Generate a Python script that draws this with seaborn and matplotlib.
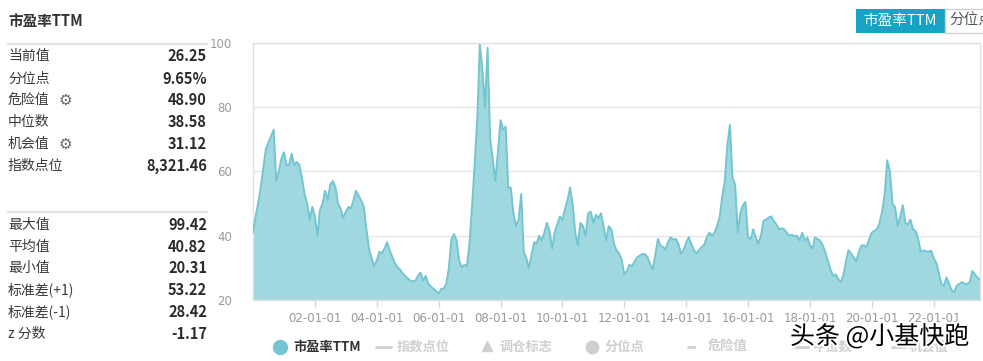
import numpy as np
import pandas as pd
import matplotlib
matplotlib.use("Agg")
import matplotlib.pyplot as plt
import matplotlib.dates as mdates
import matplotlib.patheffects as pfx
from matplotlib.patches import Rectangle
from matplotlib.lines import Line2D
import seaborn as sns

# ---------------- data ----------------
start_month = "2000-01-01"
pe_ttm = [
    41, 46, 50, 55, 61, 67, 69, 71, 73, 57,
    60, 64, 66, 62, 62, 65.5, 62, 63, 62, 58,
    53, 50, 45, 49, 46, 40, 48, 50, 54, 51,
    56, 57, 55, 50, 48.5, 45.5, 47.5, 49, 48.5, 51,
    54, 52.5, 51, 49, 42, 36, 33, 30.5,
    32.3, 35, 34.5, 36, 38, 35.5, 33.5, 31.5, 30.2, 29.5,
    28.3, 27.5, 26.7, 26, 25.8, 26, 27.5, 28.5, 26, 27.5,
    25, 24.2, 23.5, 22.8, 22, 23.5, 23.5, 25, 30, 39,
    40.5, 38.5, 32, 30.2, 31, 30.5, 38, 50, 62, 76,
    99.4, 92, 80, 98.5, 70,
    64, 57, 66, 76, 73, 74, 55, 55, 47, 43,
    45, 53, 35, 33, 30, 34, 38, 37.5, 40, 38.5,
    41, 44, 41.5, 36, 41, 43.5, 46, 45, 48.5, 51,
    55, 50, 41, 37, 44, 43, 40, 47, 47.5, 44,
    46.5, 45.5, 47, 43, 38.5, 43,
    42, 37.5, 35.5, 34.5, 32.5, 28, 29, 31, 30.5, 32,
    33.3, 33.8, 34.3, 34.3, 33.3, 31.2, 29.5, 34, 39, 37,
    36.5, 35.8, 38, 39.5, 38.8, 39, 37.4, 34.5, 35.5, 38,
    39.5, 37.5, 35.5, 34.5, 35.5, 36.5, 37.2, 39.5, 41, 40,
    41, 43, 46, 52, 57, 68, 74.5,
    58, 56, 41, 47, 49.5, 50.5, 39.5, 39, 42, 39.5,
    37.5, 40, 44.6, 45, 45.7, 46, 44.6, 43.5, 42, 42.3,
    42, 41, 40, 40.3, 39.8, 40, 38.5, 41, 38.5, 39.5,
    37, 36, 39.5, 39, 38.5, 37, 35, 32, 29.5, 27.5,
    28, 26.5, 25.5, 28, 32, 35.5, 34.5, 33.3, 32,
    35, 37, 37, 36.5, 39, 41, 41.5, 42, 44, 47.5,
    53, 63.5, 60, 50, 49, 43, 46, 49.5, 44, 43.5,
    45, 42, 41.5, 39, 35, 35.4, 35.2, 35, 35.4, 33,
    31.5, 28.5, 25, 24.5, 27, 25, 23, 22.5, 24.5, 25,
    25.6, 25, 25, 25.5, 29, 28, 27, 26.25,
]
dates = pd.date_range(start_month, periods=len(pe_ttm), freq="MS")

title_text = "市盈率TTM"
stat_labels_top = ["当前值", "分位点", "危险值", "中位数", "机会值", "指数点位"]
stat_values_top = ["26.25", "9.65%", "48.90", "38.58", "31.12", "8,321.46"]
gear_rows = ["危险值", "机会值"]
stat_labels_bottom = ["最大值", "平均值", "最小值", "标准差(+1)", "标准差(-1)", "z 分数"]
stat_values_bottom = ["99.42", "40.82", "20.31", "53.22", "28.42", "-1.17"]
y_ticks = [20, 40, 60, 80, 100]
x_tick_years = [2002, 2004, 2006, 2008, 2010, 2012, 2014, 2016, 2018, 2020, 2022]
legend_labels = ["市盈率TTM", "指数点位", "调仓标志", "分位点", "危险值", "中位数", "机会值"]
button_labels = ["市盈率TTM", "分位点"]
watermark = "头条 @小基快跑"

# ---------------- style ----------------
sns.set_theme(style="white")
CJK = ["Noto Sans CJK SC", "DejaVu Sans"]
plt.rcParams["font.family"] = CJK

W, H = 983, 361
fig = plt.figure(figsize=(W / 100, H / 100), dpi=100)
fig.patch.set_facecolor("white")


def fx(x):
    return x / W


def fy(y):
    return 1 - y / H


LINE_C = "#74c5d1"
FILL_C = "#a0d8df"
GRID_C = "#e6e6e6"
TICK_C = "#999999"

ax = fig.add_axes([fx(253), fy(300), fx(980) - fx(253), fy(43) - fy(300)])
ax.fill_between(dates, pe_ttm, 0, color=FILL_C, lw=0, zorder=2)
sns.lineplot(x=dates, y=pe_ttm, ax=ax, color=LINE_C, lw=1.4, zorder=3)

ax.set_xlim(dates[0], dates[-1])
ax.set_ylim(20, 100)
ax.set_yticks(y_ticks)
ax.set_xticks([pd.Timestamp(f"{y}-01-01") for y in x_tick_years])
ax.xaxis.set_major_formatter(mdates.DateFormatter("%y-%m-%d"))
ax.set_xlabel("")
ax.set_ylabel("")
ax.grid(axis="y", color=GRID_C, lw=1, zorder=0)
ax.grid(axis="x", visible=False)
for s in ax.spines.values():
    s.set_color("#e2e2e2")
    s.set_linewidth(1)
ax.tick_params(axis="y", length=0, pad=15, labelsize=8.5, labelcolor=TICK_C)
ax.tick_params(axis="x", length=5, width=1, color="#d6d6d6", pad=4,
               labelsize=8.5, labelcolor=TICK_C, direction="out", bottom=True)
for t in ax.get_xticklabels() + ax.get_yticklabels():
    t.set_family("DejaVu Sans")

# ---------------- left stats panel ----------------
fig.text(fx(8), fy(21), title_text, fontsize=10.5, fontweight="bold",
         color="#333333", ha="left", va="center")
for ysep in (44, 212):
    fig.add_artist(Line2D([fx(8), fx(207)], [fy(ysep), fy(ysep)],
                          transform=fig.transFigure, color="#e3e3e3", lw=1.5))

rows_top_y = [56, 78.5, 100, 122, 144, 166]
rows_bot_y = [225, 246.5, 268, 290, 312, 334]
for labels, values, ys in ((stat_labels_top, stat_values_top, rows_top_y),
                           (stat_labels_bottom, stat_values_bottom, rows_bot_y)):
    for lab, val, yy in zip(labels, values, ys):
        fig.text(fx(8), fy(yy), lab, fontsize=10, color="#3a3a3a",
                 ha="left", va="center")
        fig.text(fx(207), fy(yy), val, fontsize=10.5, fontweight="bold",
                 color="#2b2b2b", ha="right", va="center")
        if lab in gear_rows:
            fig.text(fx(65), fy(yy), "⚙", family="DejaVu Sans", fontsize=11,
                     color="#666666", ha="center", va="center")

# ---------------- top-right buttons ----------------
fig.add_artist(Rectangle((fx(856), fy(33)), fx(945) - fx(856), fy(9) - fy(33),
                         transform=fig.transFigure, facecolor="#17a3c4",
                         edgecolor="none"))
fig.add_artist(Rectangle((fx(945), fy(33)), fx(1000) - fx(945), fy(9) - fy(33),
                         transform=fig.transFigure, facecolor="white",
                         edgecolor="#d0d0d0", lw=1))
fig.text(fx(900), fy(21), button_labels[0], fontsize=10.5, color="white",
         ha="center", va="center")
fig.text(fx(949), fy(21), button_labels[1], fontsize=10.5, color="#555555",
         ha="left", va="center")

# ---------------- legend ----------------
LY = 347
GRAY = "#cfcfcf"
fig.add_artist(Line2D([fx(280)], [fy(LY)], marker="o", markersize=10,
                      color=LINE_C, transform=fig.transFigure, lw=0))
fig.text(fx(293), fy(LY), legend_labels[0], fontsize=9.5, fontweight="bold",
         color="#333333", ha="left", va="center")
fig.add_artist(Line2D([fx(376), fx(391)], [fy(LY), fy(LY)], color=GRAY, lw=2,
                      transform=fig.transFigure))
fig.text(fx(397), fy(LY), legend_labels[1], fontsize=9.5, fontweight="bold",
         color=GRAY, ha="left", va="center")
fig.add_artist(Line2D([fx(487)], [fy(LY - 1)], marker="^", markersize=7,
                      color=GRAY, transform=fig.transFigure, lw=0))
fig.text(fx(500), fy(LY), legend_labels[2], fontsize=9.5, fontweight="bold",
         color=GRAY, ha="left", va="center")
fig.add_artist(Line2D([fx(592)], [fy(LY)], marker="o", markersize=9,
                      color=GRAY, transform=fig.transFigure, lw=0))
fig.text(fx(605), fy(LY), legend_labels[3], fontsize=9.5, fontweight="bold",
         color=GRAY, ha="left", va="center")
fig.add_artist(Line2D([fx(687), fx(702)], [fy(LY), fy(LY)], color=GRAY, lw=2,
                      ls=(0, (3, 2.5, 1, 2.5)), transform=fig.transFigure))
fig.text(fx(708), fy(LY), legend_labels[4], fontsize=9.5, fontweight="bold",
         color=GRAY, ha="left", va="center")
fig.add_artist(Line2D([fx(795), fx(808)], [fy(LY), fy(LY)], color=GRAY, lw=2,
                      transform=fig.transFigure))
fig.text(fx(813), fy(LY), legend_labels[5], fontsize=9.5, fontweight="bold",
         color=GRAY, ha="left", va="center")
fig.add_artist(Line2D([fx(892), fx(905)], [fy(LY), fy(LY)], color=GRAY, lw=2,
                      transform=fig.transFigure))
fig.text(fx(909), fy(LY), legend_labels[6], fontsize=9.5, fontweight="bold",
         color=GRAY, ha="left", va="center")

# ---------------- watermark ----------------
fig.text(fx(790), fy(337), watermark, fontsize=18, color="black",
         ha="left", va="center",
         path_effects=[pfx.withStroke(linewidth=3, foreground="white")])

fig.savefig("out.png", dpi=100, facecolor="white")
